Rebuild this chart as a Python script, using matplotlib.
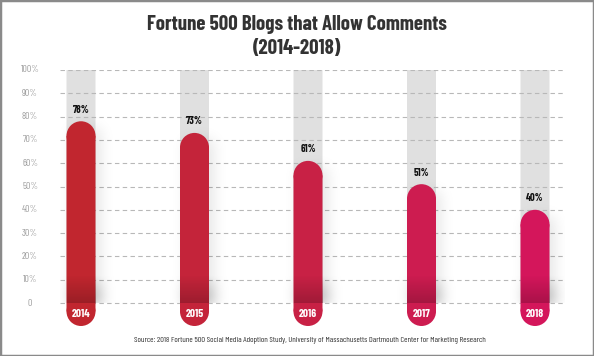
import numpy as np
import matplotlib
matplotlib.use("Agg")
import matplotlib.pyplot as plt
from matplotlib.patches import Rectangle, Ellipse
from matplotlib import font_manager

years = ["2014", "2015", "2016", "2017", "2018"]
values = [78, 73, 61, 51, 40]
value_labels = ["78%", "73%", "61%", "51%", "40%"]
ytick_vals = [0, 10, 20, 30, 40, 50, 60, 70, 80, 90, 100]
ytick_labels = ["0", "10%", "20%", "30%", "40%", "50%", "60%", "70%", "80%", "90%", "100%"]
bar_colors = ["#C1262F", "#C4243A", "#C82145", "#CD1C50", "#D4165B"]

title1 = "Fortune 500 Blogs that Allow Comments"
title2 = "(2014-2018)"
source = ("Source: 2018 Fortune 500 Social Media Adoption Study, University of "
          "Massachusetts Dartmouth Center for Marketing Research")

avail = {f.name for f in font_manager.fontManager.ttflist}
cond = next((n for n in ["Barlow Condensed", "Asap Condensed", "Archivo Narrow"] if n in avail),
            "DejaVu Sans")
FAM = [cond, "DejaVu Sans"]

W, H = 594, 356
fig = plt.figure(figsize=(W / 100, H / 100), dpi=100)

px_per_cat = 113.5
x0_px, x1_px = 60, 565
first_center = 81
y0_px, y100_px = 303, 70
px_per_unit = (y0_px - y100_px) / 100.0
bottom_px = 328.6
xlim = (-(first_center - x0_px) / px_per_cat, (x1_px - first_center) / px_per_cat)
ylim = (-(bottom_px - y0_px) / px_per_unit, 100)
ax = fig.add_axes([x0_px / W, (H - bottom_px) / H, (x1_px - x0_px) / W, (bottom_px - y100_px) / H])
ax.set_axis_off()

bw = 29 / px_per_cat
cap_h = 29 / px_per_unit
r_u = cap_h / 2
bar_bottom = -(326 - y0_px) / px_per_unit

for i in range(len(years)):
    ax.add_patch(Rectangle((i - bw / 2, 0), bw, 100, facecolor="#E0E0E0",
                           edgecolor="none", zorder=1, snap=False))

for v in ytick_vals:
    ax.plot([xlim[0], xlim[1]], [v, v], color="#B8B8B8", lw=0.8,
            dashes=(4, 3), zorder=2)

# soft shadow
nx, ny = int(x1_px - x0_px), int(bottom_px - y100_px)
gx = xlim[0] + (np.arange(nx) + 0.5) / px_per_cat
gy = ylim[0] + (np.arange(ny) + 0.5) / px_per_unit
GX, GY = np.meshgrid(gx, gy)
mask = np.zeros_like(GX)
off = 5 / px_per_cat
for i, v in enumerate(values):
    mask[(np.abs(GX - i - off) <= bw / 2) & (GY <= v - 3) & (GY >= 0)] = 1.0
sig = 7.0
k = np.arange(-25, 26)
kern = np.exp(-k ** 2 / (2 * sig ** 2)); kern /= kern.sum()
mask = np.apply_along_axis(lambda r: np.convolve(r, kern, mode="same"), 1, mask)
mask = np.apply_along_axis(lambda c: np.convolve(c, kern, mode="same"), 0, mask)
weight = 0.10 + 0.28 * np.clip((12 - GY) / 12, 0, 1)
alpha = mask * weight
alpha[GY < 0] = 0
rgba = np.zeros((ny, nx, 4))
rgba[..., 3] = np.clip(alpha, 0, 1)
ax.imshow(rgba, extent=(xlim[0], xlim[1], ylim[0], ylim[1]), origin="lower",
          aspect="auto", interpolation="bilinear", zorder=3)

for i, (v, c) in enumerate(zip(values, bar_colors)):
    rect = Rectangle((i - bw / 2, bar_bottom + r_u), bw, (v - r_u) - (bar_bottom + r_u),
                     facecolor=c, edgecolor="none", zorder=4, snap=False)
    ax.add_patch(rect)
    ax.add_patch(Ellipse((i, v - r_u), bw, cap_h, facecolor=c, edgecolor="none", zorder=4))
    ax.add_patch(Ellipse((i, bar_bottom + r_u), bw, cap_h, facecolor=c, edgecolor="none", zorder=4))
    grad = np.linspace(0.2, 0.0, 64)
    img = np.zeros((64, 1, 4)); img[:, 0, 3] = grad
    im = ax.imshow(img, extent=(i - bw / 2, i + bw / 2, 0, 12), origin="lower",
                   aspect="auto", interpolation="bilinear", zorder=5)
    im.set_clip_path(rect)
    ax.text(i, v + 5, value_labels[i], ha="center", va="center", fontsize=7.5,
            fontweight="bold", color="#111111", family=FAM, zorder=6)
    ax.text(i, -4.6, years[i], ha="center", va="center", fontsize=8,
            fontweight="bold", color="white", family=FAM, zorder=6)

lab_x = xlim[0] - (x0_px - 30) / px_per_cat
for v, t in zip(ytick_vals, ytick_labels):
    ax.text(lab_x, v, t, ha="center", va="center", fontsize=7, color="#9C9C9C",
            family=FAM, clip_on=False)

ax.set_xlim(*xlim)
ax.set_ylim(*ylim)

fig.text(0.5, 1 - 25 / H, title1, ha="center", va="center",
         fontsize=15, fontweight="bold", color="#333333", family=FAM)
fig.text(0.5, 1 - 48 / H, title2, ha="center", va="center",
         fontsize=15, fontweight="bold", color="#333333", family=FAM)
fig.text(310 / W, 1 - 340 / H, source, ha="center", va="center", fontsize=6,
         color="#333333", family=FAM)

fig.add_artist(Rectangle((0, 0), 1, 1, transform=fig.transFigure, fill=False,
                         edgecolor="#8A8A8A", lw=2.5))

fig.savefig("out.png", dpi=100)
